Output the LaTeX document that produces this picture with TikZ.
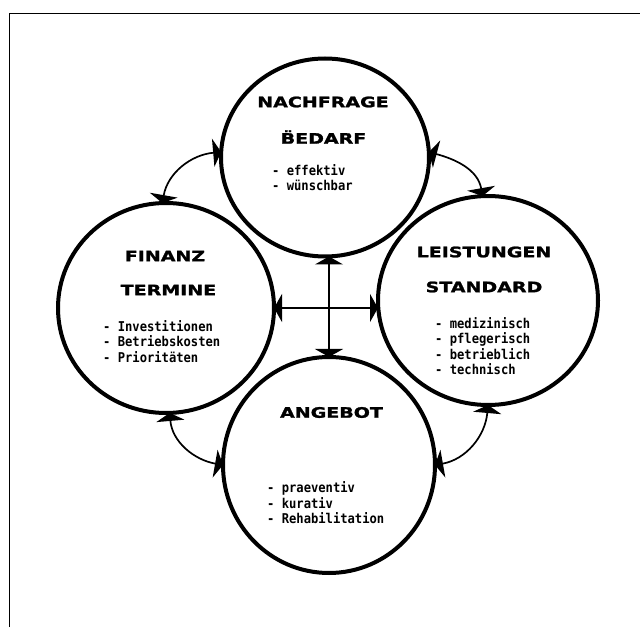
\documentclass[tikz,border=0pt]{standalone}
\usepackage{fontspec}
\usetikzlibrary{arrows.meta,shapes.geometric}
\newfontfamily\headfont{DejaVu Sans}[FakeStretch=1.32,FakeBold=1.6]
\newfontfamily\listfont{DejaVu Sans Mono}[FakeStretch=0.9]
\begin{document}
\begin{tikzpicture}[x=1pt,y=1pt,
 ring/.style={ellipse, draw, line width=4pt, inner sep=0pt, outer sep=0pt},
 head/.style={font=\headfont\bfseries\fontsize{14.4}{16}\selectfont, inner sep=0pt},
 items/.style={font=\listfont\bfseries\fontsize{13.5}{15.5}\selectfont, align=left, anchor=west, inner sep=0pt},
 link/.style={line width=1.7pt, {Triangle[width=28pt,length=8pt]}-{Triangle[width=28pt,length=8pt]}},
 frameline/.style={line width=1.4pt}]
\useasboundingbox (0,0) rectangle (640,627);
\draw[frameline] (9.5,0) -- (9.5,613.5) -- (640,613.5);

\node[ring, minimum width=208pt, minimum height=198pt] (T) at (325,469.5) {};
\node[ring, minimum width=216pt, minimum height=210pt] (L) at (166,319) {};
\node[ring, minimum width=220pt, minimum height=209pt] (R) at (488,326.5) {};
\node[ring, minimum width=212pt, minimum height=216pt] (B) at (329,162) {};

\node[head] (t1) at (323,525) {NACHFRAGE};
\node[head] (t2) at (323.5,490) {\"BEDARF};
\node[items] (t3) at (272,449.5) {- effektiv\\- wünschbar};

\node[head] (l1) at (165,371) {FINANZ};
\node[head] (l2) at (168.5,337) {TERMINE};
\node[items] (l3) at (103,285.5) {- Investitionen\\- Betriebskosten\\- Prioritäten};

\node[head] (r1) at (484,375) {LEISTUNGEN};
\node[head] (r2) at (484,340) {STANDARD};
\node[items] (r3) at (435,281) {- medizinisch\\- pflegerisch\\- betrieblich\\- technisch};

\node[head] (b1) at (331.5,214.5) {ANGEBOT};
\node[items] (b3) at (267,124.3) {- praeventiv\\- kurativ\\- Rehabilitation};

\draw[link] (B.north |- T.south) -- (B.north);
\draw[link] (L.east) -- (L.east -| R.west);

\draw[link] (L.92) to[out=80,in=185] (T.177);
\draw[link] (T.3) to[out=-15,in=100] (R.93);
\draw[link] (L.272) to[out=-85,in=170] (B.west);
\draw[link] (R.270) to[out=-95,in=10] (B.east);
\end{tikzpicture}
\end{document}
